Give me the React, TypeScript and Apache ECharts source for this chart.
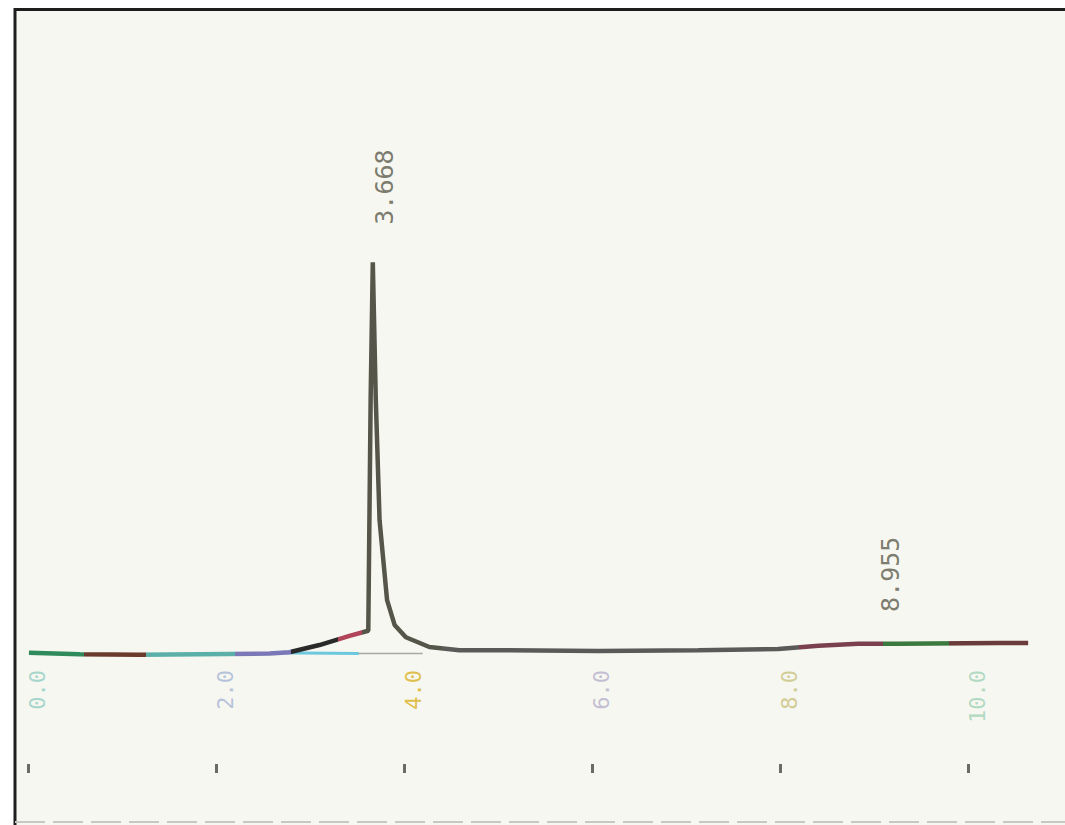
import React, { useEffect, useRef } from "react";
import * as echarts from "echarts";

// Chromatogram trace (retention time in min, detector signal in arbitrary units)
const times = [0.01, 0.55, 1.19, 1.83, 2.57, 2.78, 3.10, 3.42, 3.62, 3.645, 3.668, 3.70, 3.74, 3.82, 3.90, 4.02, 4.27, 4.59, 5.01, 6.07, 7.13, 7.98, 8.41, 8.83, 9.26, 10.32, 10.64];
const signal = [1.1, 0.9, 0.8, 0.9, 1.0, 1.2, 2.3, 3.7, 4.5, 40, 61.2, 40, 21.5, 9.2, 5.4, 3.5, 2.0, 1.5, 1.5, 1.4, 1.5, 1.7, 2.2, 2.5, 2.5, 2.6, 2.6];

// Drop baseline under the main peak
const baseCyanTimes = [2.6, 3.52];
const baseCyanValues = [1.1, 1.0];
const baseGrayTimes = [3.52, 4.2];
const baseGrayValues = [1.0, 1.0];

// Peak annotations
const peakTimes = [3.668, 8.955];
const peakHeights = [61.2, 2.4];

// Axis tick labels
const tickValues = [0, 2, 4, 6, 8, 10];
const tickLabelColors = ["#a6d6cb", "#b6c3da", "#dfbf4c", "#c3bfd3", "#d2cc96", "#b2dac2"];

export default function App() {
  const ref = useRef<HTMLDivElement>(null);
  useEffect(() => {
    if (!ref.current) return;
    const chart = echarts.init(ref.current, null, { renderer: "svg" });
    const trace = times.map((t, i) => [t, signal[i]]);
    const baseCyan = baseCyanTimes.map((t, i) => [t, baseCyanValues[i]]);
    const baseGray = baseGrayTimes.map((t, i) => [t, baseGrayValues[i]]);
    const peakOffsets = [[12, -37], [21, -32]];
    const peaks = peakTimes.map((t, i) => ({
      value: [t, peakHeights[i]],
      label: { position: peakOffsets[i] },
    }));
    chart.setOption({
      animation: false,
      backgroundColor: "transparent",
      graphic: [
        {
          type: "rect",
          z: -10,
          shape: { x: 15, y: 10, width: 1050, height: 815 },
          style: { fill: "#f7f7f1" },
          silent: true,
        },
        {
          type: "polyline",
          z: 100,
          shape: { points: [[15, 825], [15, 9.5], [1065, 9.5]] },
          style: { stroke: "#1e1e1e", lineWidth: 3, fill: "none" },
          silent: true,
        },
        {
          type: "line",
          z: 100,
          shape: { x1: 15, y1: 822, x2: 1065, y2: 822 },
          style: { stroke: "#c8c8c0", lineWidth: 2, lineDash: [30, 8] },
          silent: true,
        },
      ],
      grid: [
        { left: 28, right: 3, top: 10, bottom: 165 },
        { left: 28, right: 3, top: 700, bottom: 61 },
      ],
      xAxis: [
        {
          type: "value",
          gridIndex: 0,
          min: 0,
          max: 11,
          position: "bottom",
          axisLine: { show: false },
          axisTick: { show: false },
          axisLabel: { show: false },
          splitLine: { show: false },
        },
        {
          type: "value",
          gridIndex: 0,
          min: -0.1,
          max: 10.9,
          position: "bottom",
          axisLine: { show: false },
          axisTick: { show: false },
          splitLine: { show: false },
          axisLabel: {
            customValues: tickValues,
            rotate: 90,
            margin: 10,
            fontFamily: "DejaVu Sans Mono",
            fontSize: 22,
            formatter: (v: number) => v.toFixed(1),
            color: (v: any) => tickLabelColors[tickValues.indexOf(Number(v))] || "#bbb",
          },
        },
        {
          type: "value",
          gridIndex: 1,
          min: 0,
          max: 11,
          position: "bottom",
          axisLine: { show: false },
          axisTick: {
            show: true,
            customValues: tickValues,
            length: 9,
            lineStyle: { color: "#6a6a66", width: 3 },
          },
          axisLabel: { show: false },
          splitLine: { show: false },
        },
      ],
      yAxis: [
        { type: "value", gridIndex: 0, min: 0, max: 100, show: false },
        { type: "value", gridIndex: 1, min: 0, max: 1, show: false },
      ],
      visualMap: {
        type: "piecewise",
        show: false,
        dimension: 0,
        seriesIndex: 0,
        pieces: [
          { gte: 0, lt: 0.6, color: "#2f8a5c" },
          { gte: 0.6, lt: 1.25, color: "#6a3b2c" },
          { gte: 1.25, lt: 2.2, color: "#5ab0a8" },
          { gte: 2.2, lt: 2.8, color: "#7b78b8" },
          { gte: 2.8, lt: 3.3, color: "#2a2a2a" },
          { gte: 3.3, lt: 3.55, color: "#b04458" },
          { gte: 3.55, lt: 4.4, color: "#55554a" },
          { gte: 4.4, lt: 8.2, color: "#5a5a58" },
          { gte: 8.2, lt: 9.1, color: "#7a4050" },
          { gte: 9.1, lt: 9.8, color: "#3b7a3e" },
          { gte: 9.8, lte: 11, color: "#6a3c3c" },
        ],
      },
      series: [
        {
          name: "trace",
          type: "line",
          xAxisIndex: 0,
          yAxisIndex: 0,
          data: trace,
          showSymbol: false,
          lineStyle: { width: 4.5 },
          z: 5,
        },
        {
          name: "baselineCyan",
          type: "line",
          xAxisIndex: 0,
          yAxisIndex: 0,
          data: baseCyan,
          showSymbol: false,
          lineStyle: { width: 3, color: "#6cc8dc" },
          z: 4,
        },
        {
          name: "baselineGray",
          type: "line",
          xAxisIndex: 0,
          yAxisIndex: 0,
          data: baseGray,
          showSymbol: false,
          lineStyle: { width: 1.5, color: "#a9a9a0" },
          z: 4,
        },
        {
          name: "peaks",
          type: "scatter",
          xAxisIndex: 0,
          yAxisIndex: 0,
          data: peaks,
          symbolSize: 1,
          itemStyle: { color: "transparent" },
          label: {
            show: true,
            rotate: 90,
            align: "left",
            verticalAlign: "middle",
            fontFamily: "DejaVu Sans Mono",
            fontSize: 25,
            color: "#5b5b4b",
            formatter: (p: any) => p.value[0].toFixed(3),
          },
          z: 6,
        },
      ],
    });
    return () => chart.dispose();
  }, []);
  return (
    <div
      ref={ref}
      style={{ position: "fixed", left: 0, top: 0, width: 1065, height: 825, background: "#ffffff" }}
    />
  );
}
